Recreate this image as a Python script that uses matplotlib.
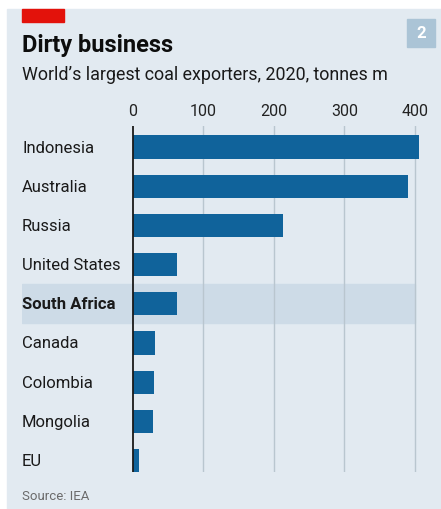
import matplotlib.pyplot as plt
import matplotlib.patches as mpatches
import matplotlib.transforms as mtrans

# data, tonnes m, 2020
countries = ['Indonesia', 'Australia', 'Russia', 'United States', 'South Africa',
             'Canada', 'Colombia', 'Mongolia', 'EU']
exports = [405, 390, 213, 63, 63, 32, 30, 29, 9]
highlight = 'South Africa'
ticks = [0, 100, 200, 300, 400]

W, H = 441, 510
plt.rcParams['font.family'] = ['Roboto', 'DejaVu Sans']

fig = plt.figure(figsize=(W / 100, H / 100), dpi=100, facecolor='white')

bg = '#e2eaf1'
# panel background
fig.patches.append(mpatches.Rectangle((7 / W, 0), 1 - 7 / W, 1 - 10 / H, transform=fig.transFigure,
                                      color=bg, zorder=-10))
# red tag
fig.patches.append(mpatches.Rectangle((22 / W, 1 - 23 / H), 42 / W, 13 / H, transform=fig.transFigure,
                                      color='#e3120b', zorder=-5))
# chart number box
fig.patches.append(mpatches.Rectangle((407 / W, 1 - 48 / H), 28 / W, 28 / H, transform=fig.transFigure,
                                      color='#abc4d6', zorder=-5))
fig.text(421 / W, 1 - 34 / H, '2', color='white', fontsize=12, fontweight='bold',
         ha='center', va='center')

fig.text(22 / W, 1 - 52 / H, 'Dirty business', fontsize=17, fontweight='bold', color='#0d0d0d',
         va='baseline')
fig.text(22 / W, 1 - 80 / H, 'World\u2019s largest coal exporters, 2020, tonnes m', fontsize=12.9,
         color='#1a1a1a', va='baseline')
fig.text(22 / W, 1 - 497 / H, 'Source: IEA', fontsize=9.5, color='#6b6b6b', va='center')

# axes geometry in pixels
x0_px, x400_px = 132.7, 415.0
ppu = (x400_px - x0_px) / 400
ax_l, ax_r = 22, 430
top_px, bot_px = 127, 473
c0, step = 148, 39.2

ax = fig.add_axes([ax_l / W, 1 - bot_px / H, (ax_r - ax_l) / W, (bot_px - top_px) / H])
ax.set_facecolor('none')
ax.set_xlim((ax_l - x0_px) / ppu, (ax_r - x0_px) / ppu)
ax.set_ylim((bot_px - c0) / step, (top_px - c0) / step)

ypos = list(range(len(countries)))
hi = countries.index(highlight)
ax.add_patch(mpatches.Rectangle((ax.get_xlim()[0], hi - 0.5), 400 - ax.get_xlim()[0], 1.0,
                                color='#cddbe7', zorder=0))

for t in ticks[1:]:
    ax.axvline(t, color='#b9c6cf', lw=1, zorder=1)
ax.barh(ypos, exports, height=0.59, color='#10639b', zorder=2)
ax.axvline(0, color='#1a1a1a', lw=1.3, zorder=3)

ax.xaxis.tick_top()
ax.set_xticks(ticks)
ax.set_xticklabels([str(t) for t in ticks], fontsize=11.5, color='#222222')
ax.tick_params(axis='x', length=0, pad=6)
ax.set_yticks([])
for s in ax.spines.values():
    s.set_visible(False)

trans = mtrans.blended_transform_factory(ax.transAxes, ax.transData)
for i, name in enumerate(countries):
    ax.text(0, i, name, transform=trans, fontsize=12, color='#1a1a1a', va='center', ha='left',
            fontweight='bold' if name == highlight else 'normal')

fig.savefig('out.png', dpi=100, facecolor='white')
